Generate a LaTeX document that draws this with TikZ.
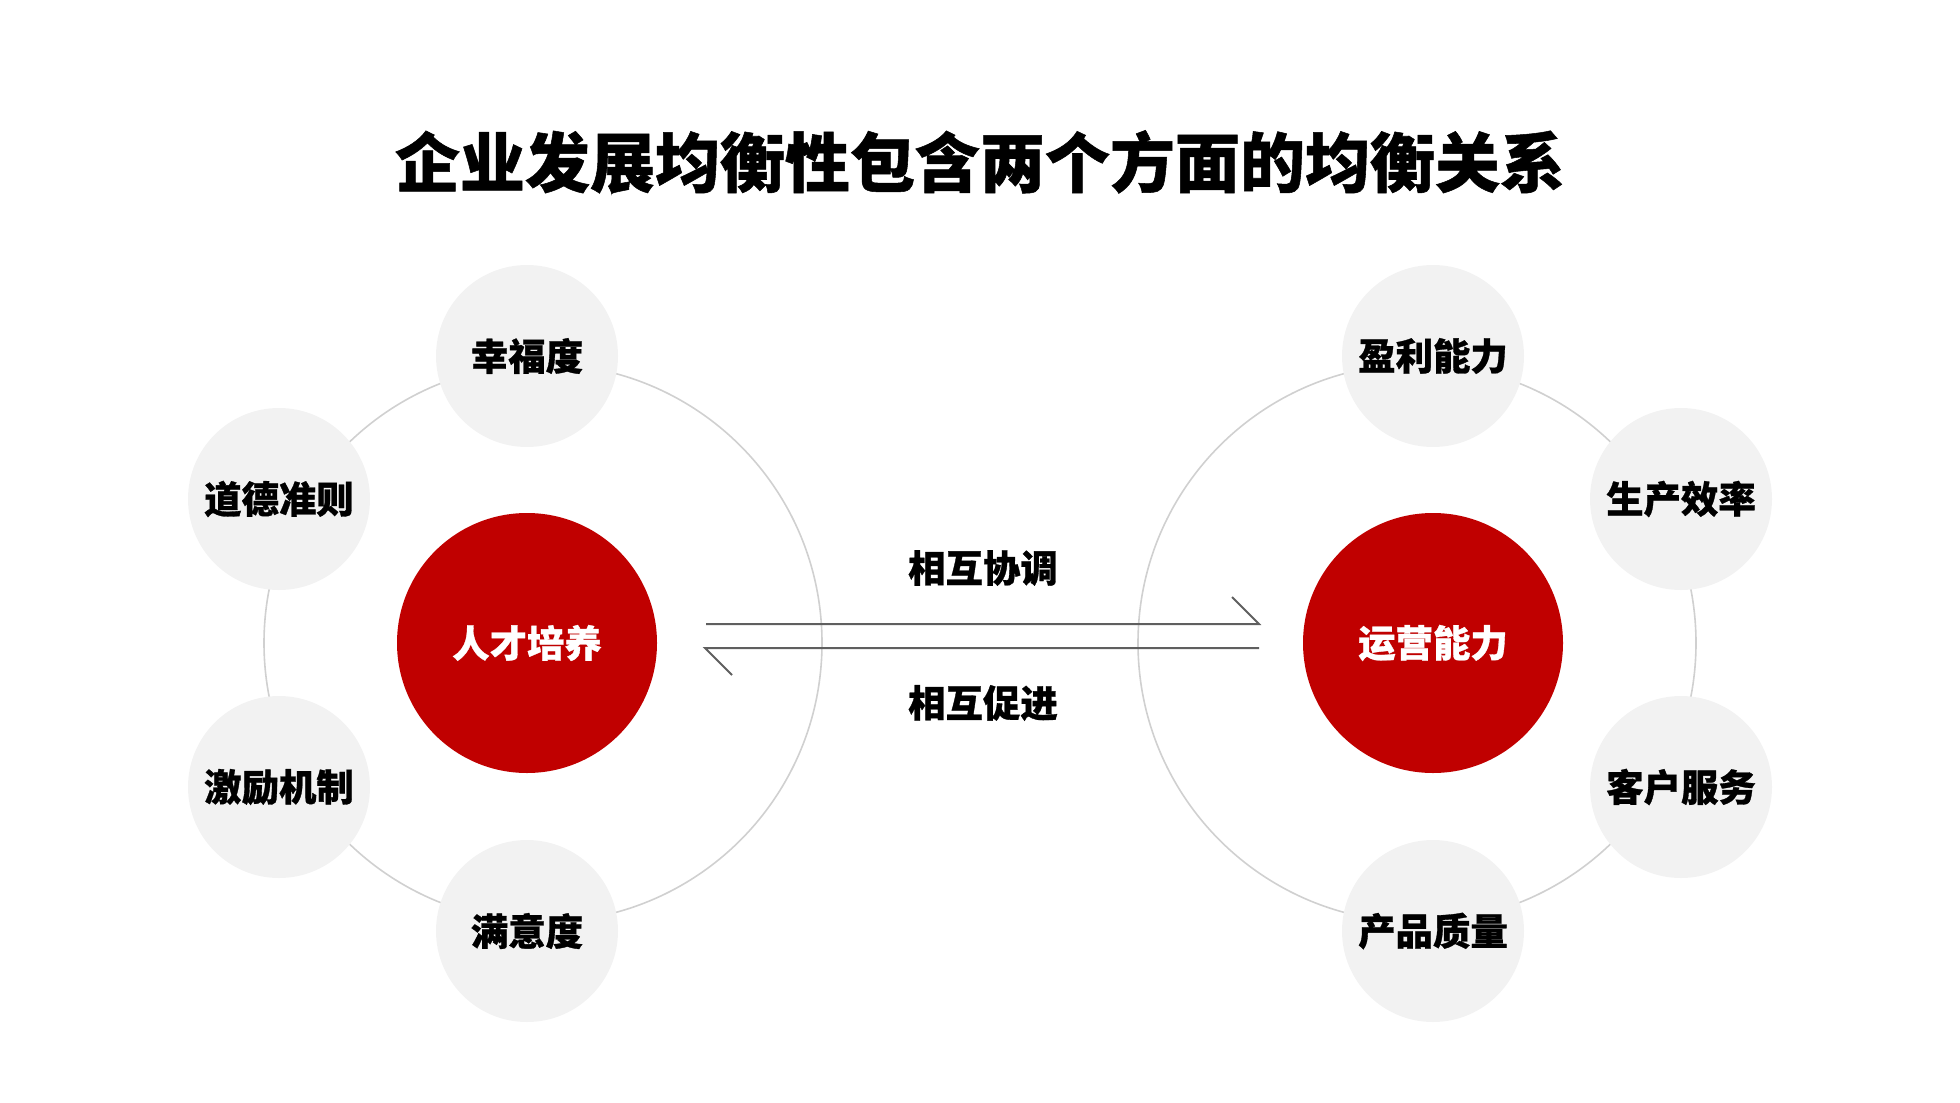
\documentclass[tikz,border=0pt]{standalone}
\usepackage{fontspec}
\setmainfont{Noto Sans CJK SC}[BoldFeatures={FakeBold=0.8}]
\usetikzlibrary{calc, positioning}
\definecolor{deepred}{HTML}{C00000}
\definecolor{softgray}{HTML}{F2F2F2}
\definecolor{ringgray}{HTML}{D0D0D0}
\definecolor{linegray}{HTML}{5F5F5F}
\tikzstyle{core} = [circle, fill=deepred, text=white, minimum size=130pt, inner sep=0pt, font=\fontsize{18.7pt}{21pt}\selectfont\bfseries]
\tikzstyle{factor} = [circle, fill=softgray, text=black, minimum size=91pt, inner sep=0pt, font=\fontsize{18.7pt}{21pt}\selectfont\bfseries]
\tikzstyle{ring} = [draw=ringgray, line width=0.8pt]
\tikzstyle{link} = [draw=linegray, line width=1pt]
\tikzstyle{tag} = [font=\fontsize{18.7pt}{21pt}\selectfont\bfseries]

\begin{document}
\begin{tikzpicture}[x=0.5pt, y=-0.5pt]
		\useasboundingbox (0,0) rectangle (1960,1103);
		\node (Title) at (980,162) {\fontsize{32.5pt}{36pt}\selectfont\bfseries 企业发展均衡性包含两个方面的均衡关系};
		
		% left group
		\draw[ring] (543,643) circle [radius=139.5pt];
		\node (Talent) [core] at (527,643) {人才培养};
		\node (Happy) [factor] at ($(Talent)+(0,-287)$) {幸福度};
		\node (Ethic) [factor] at ($(Talent)+(-248,-144)$) {道德准则};
		\node (Reward) [factor] at ($(Talent)+(-248,144)$) {激励机制};
		\node (Satisfy) [factor] at ($(Talent)+(0,288)$) {满意度};
		
		% right group
		\draw[ring] (1417,643) circle [radius=139.5pt];
		\node (Operate) [core] at (1433,643) {运营能力};
		\node (Profit) [factor] at ($(Operate)+(0,-287)$) {盈利能力};
		\node (Output) [factor] at ($(Operate)+(248,-144)$) {生产效率};
		\node (Service) [factor] at ($(Operate)+(248,144)$) {客户服务};
		\node (Quality) [factor] at ($(Operate)+(0,288)$) {产品质量};
		
		% arrows in between
		\coordinate (TopStart) at (706,624);
		\coordinate (TopEnd) at (1259,624);
		\coordinate (BotStart) at (1259,648);
		\coordinate (BotEnd) at (705,648);
		\draw[link] (TopStart) -- (TopEnd) -- ++(-27,-27);
		\draw[link] (BotStart) -- (BotEnd) -- ++(27,27);
		\node (Coord) [tag] at (983,568) {相互协调};
		\node (Promote) [tag] at (983,703) {相互促进};
\end{tikzpicture}
\end{document}
